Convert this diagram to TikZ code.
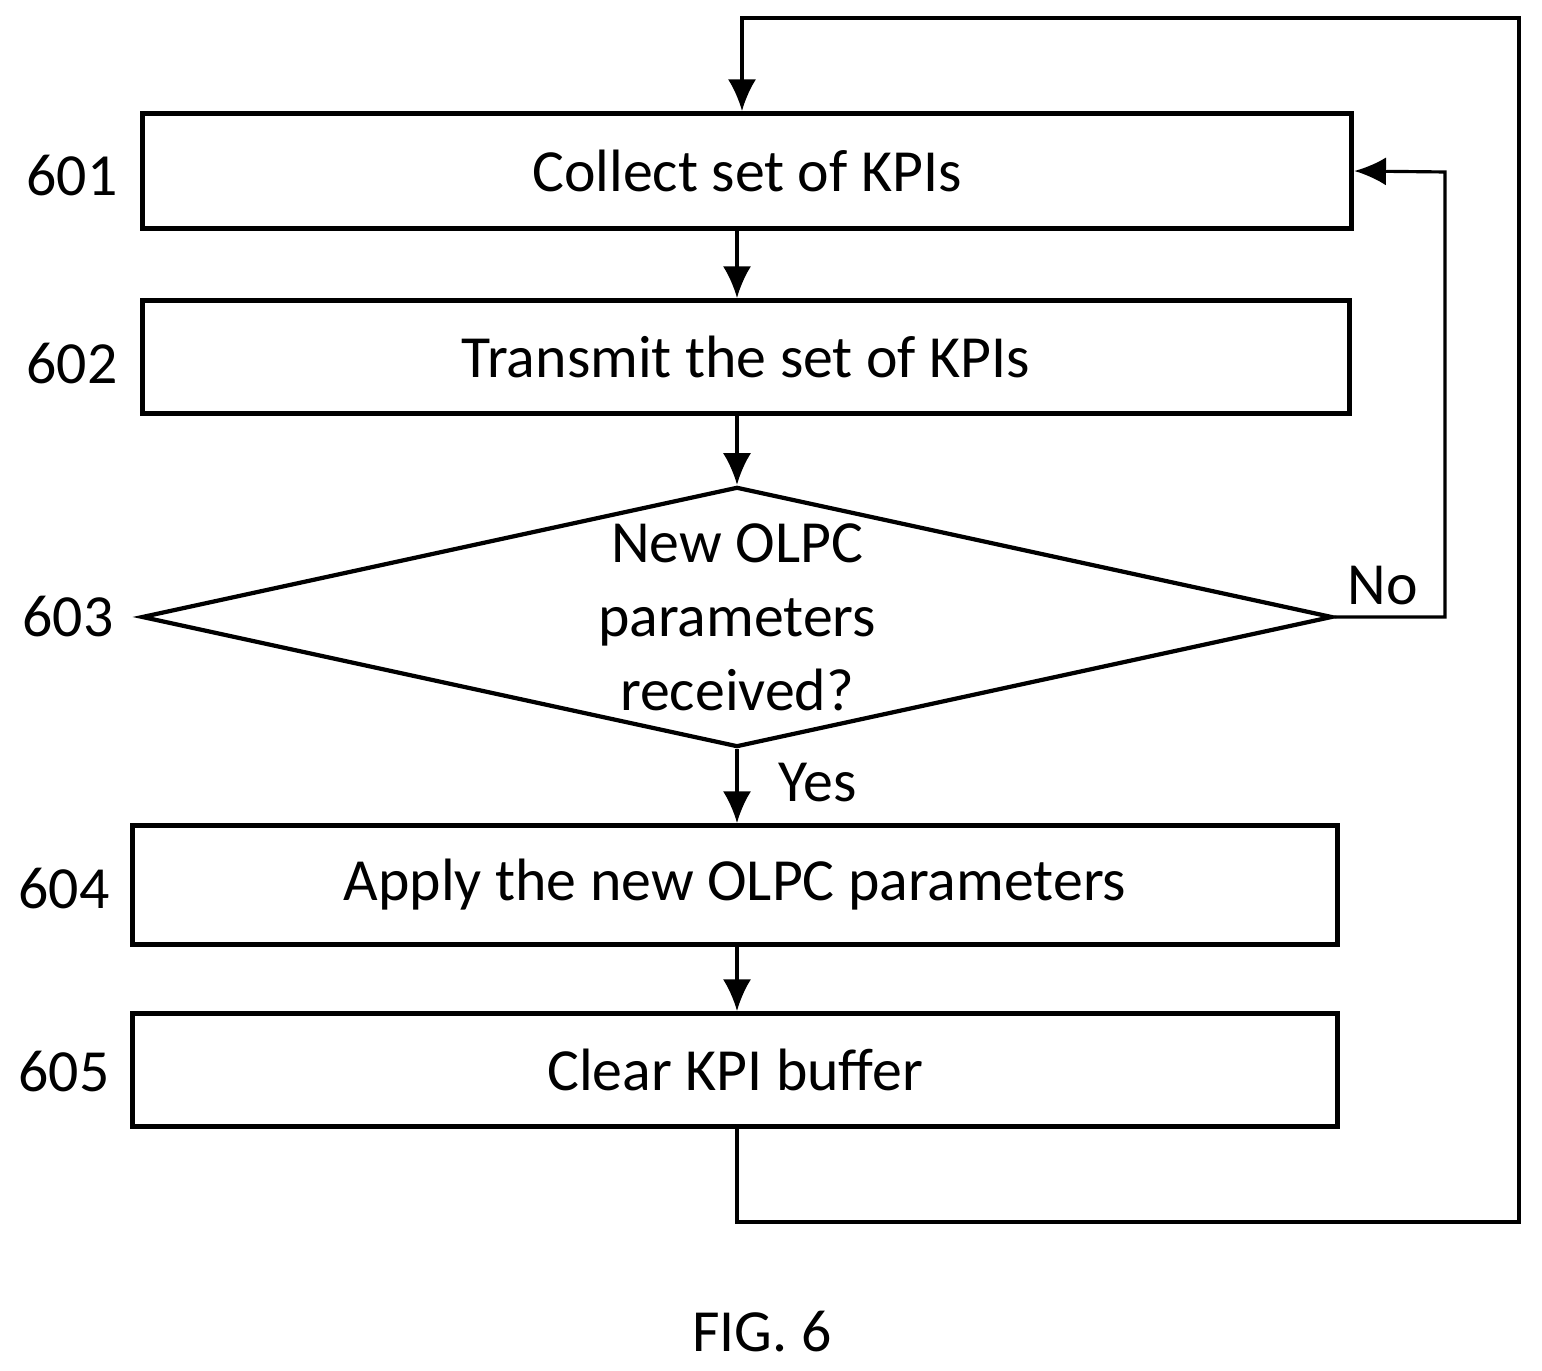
\documentclass[tikz,border=0pt]{standalone}
\usepackage{fontspec}
\setmainfont{Carlito}
\usetikzlibrary{shapes.geometric,arrows.meta,positioning,calc}

\begin{document}
\begin{tikzpicture}[
  x=0.01cm, y=-0.01cm,
  process/.style={draw, line width=1.4pt, font=\fontsize{17}{20}\selectfont,
    minimum height=1.15cm, inner sep=0pt},
  decision/.style={diamond, draw, line width=1.2pt, aspect=4.6,
    minimum width=11.9cm, minimum height=2.6cm, inner sep=0pt,
    font=\fontsize{17}{21}\selectfont, align=center},
  num/.style={font=\fontsize{17}{20}\selectfont},
  flow/.style={-{Latex[length=9pt,width=8pt]}, line width=0.9pt}
]
  \useasboundingbox (0,0) rectangle (1542,1371);

  % Steps
  \node[process, minimum width=12.09cm] (collect) at (747,171) {Collect set of KPIs};
  \node[process, minimum width=12.07cm, minimum height=1.13cm] (transmit) at (746,357) {Transmit the set of KPIs};
  \node[decision] (check) at (737,617) {New OLPC\\parameters\\received?};
  \node[process, minimum width=12.05cm, minimum height=1.19cm] (apply) at (735,885) {Apply the new OLPC parameters};
  \node[process, minimum width=12.05cm, minimum height=1.13cm] (clear) at (735,1070) {Clear KPI buffer};

  % Step numbers
  \node[num] at (72,176) {601};
  \node[num] at (72,364) {602};
  \node[num] at (68,617) {603};
  \node[num] at (64,889) {604};
  \node[num] at (64,1072) {605};

  % Connectors
  \draw[flow] (collect.south -| check.north) -- (transmit.north -| check.north);
  \draw[flow] (transmit.south -| check.north) -- (check.north);
  \draw[flow] (check.south) -- (apply.north -| check.south)
    node[pos=0.45, right=8pt, num] {Yes};
  \draw[flow] (apply.south -| check.south) -- (clear.north -| check.south);
  \draw[flow] (check.east) -- (1445,617) -- (1445,172) -- (collect.east);
  \node[num] at (1383,586) {No};
  \coordinate (loop) at (1519,18);
  \draw[flow] (clear.south -| check.south) -- (737,1222) -- (1519,1222) -- (loop) -- (742,18) -- (collect.north -| 742,0);

  \node[num] at (762,1332) {FIG. 6};
\end{tikzpicture}
\end{document}
